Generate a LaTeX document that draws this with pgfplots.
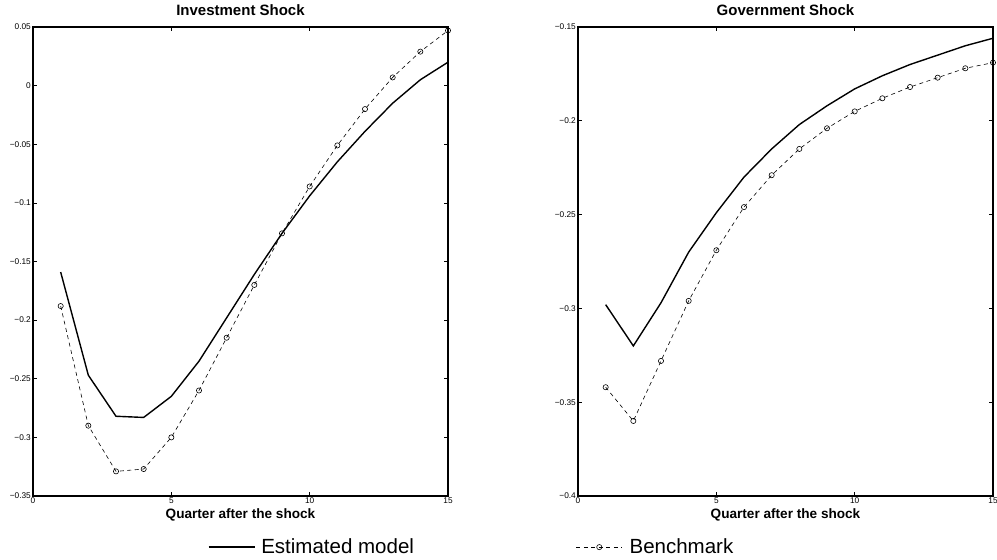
\documentclass[border=0pt]{standalone}
\usepackage{fontspec}
\setmainfont{Liberation Sans}
\usepackage{pgfplots}
\pgfplotsset{compat=1.18}
\begin{document}
\begin{tikzpicture}[x=1pt,y=1pt]
\useasboundingbox (0,0) rectangle (997,560);
\pgfplotsset{
  every axis/.append style={
    scale only axis, width=415pt, height=469pt,
    xmin=0, xmax=15, xtick={0,5,10,15},
    tick align=inside, major tick length=4pt,
    axis line style={line width=1.1pt},
    every tick/.style={black, line width=0.6pt},
    tick label style={font=\fontsize{8.3}{9}\selectfont, inner sep=1pt},
    /pgf/number format/assume math mode=true,
    title style={font=\fontsize{15}{16}\selectfont\bfseries, at={(0.5,1)}, anchor=south, inner sep=0pt, yshift=5pt},
    xlabel style={font=\fontsize{13.6}{15}\selectfont\bfseries, at={(0.5,0)}, anchor=center, yshift=-19pt, inner sep=0pt},
    xlabel={Quarter after the shock},
    xticklabel style={yshift=-1pt},
    yticklabel style={xshift=-1pt},
  },
  est/.style={black, line width=1.4pt, mark=none},
  bench/.style={black, line width=0.6pt, dash pattern=on 4pt off 3.5pt, mark=o, mark size=2.6pt, mark options={solid, line width=0.6pt}},
}
\begin{axis}[at={(33pt,64pt)}, anchor=south west,
  title={Investment Shock},
  ymin=-0.35, ymax=0.05,
  ytick={-0.35,-0.3,-0.25,-0.2,-0.15,-0.1,-0.05,0,0.05},
  yticklabels={−0.35,−0.3,−0.25,−0.2,−0.15,−0.1,−0.05,0,0.05},
  legend columns=2,
  legend style={draw=none, fill=none, at={(0.421,-0.109)}, anchor=west,
    font=\fontsize{20.5}{22}\selectfont, inner sep=0pt,
    nodes={inner sep=2pt},
    /tikz/column 1/.style={column sep=4pt},
    /tikz/column 3/.style={column sep=5pt},
    /tikz/column 2/.style={column sep=160pt}},
  legend image code/.code={\draw[mark repeat=2,mark phase=2,#1] plot coordinates {(0pt,0pt) (23pt,0pt) (46pt,0pt)};},
]
\addplot[est] coordinates {(1,-0.159) (2,-0.247) (3,-0.282) (4,-0.283) (5,-0.265) (6,-0.235) (7,-0.198) (8,-0.161) (9,-0.126) (10,-0.094) (11,-0.065) (12,-0.039) (13,-0.015) (14,0.005) (15,0.020)};
\addlegendentry{Estimated model}
\addplot[bench] coordinates {(1,-0.188) (2,-0.290) (3,-0.329) (4,-0.327) (5,-0.300) (6,-0.260) (7,-0.215) (8,-0.170) (9,-0.126) (10,-0.086) (11,-0.051) (12,-0.020) (13,0.007) (14,0.029) (15,0.047)};
\addlegendentry{Benchmark}
\end{axis}
\begin{axis}[at={(578pt,64pt)}, anchor=south west,
  title={Government Shock},
  ymin=-0.4, ymax=-0.15,
  ytick={-0.4,-0.35,-0.3,-0.25,-0.2,-0.15},
  yticklabels={−0.4,−0.35,−0.3,−0.25,−0.2,−0.15},
]
\addplot[est] coordinates {(1,-0.298) (2,-0.320) (3,-0.297) (4,-0.270) (5,-0.249) (6,-0.230) (7,-0.215) (8,-0.202) (9,-0.192) (10,-0.183) (11,-0.176) (12,-0.170) (13,-0.165) (14,-0.160) (15,-0.156)};
\addplot[bench] coordinates {(1,-0.342) (2,-0.360) (3,-0.328) (4,-0.296) (5,-0.269) (6,-0.246) (7,-0.229) (8,-0.215) (9,-0.204) (10,-0.195) (11,-0.188) (12,-0.182) (13,-0.177) (14,-0.172) (15,-0.169)};
\end{axis}
\end{tikzpicture}
\end{document}
